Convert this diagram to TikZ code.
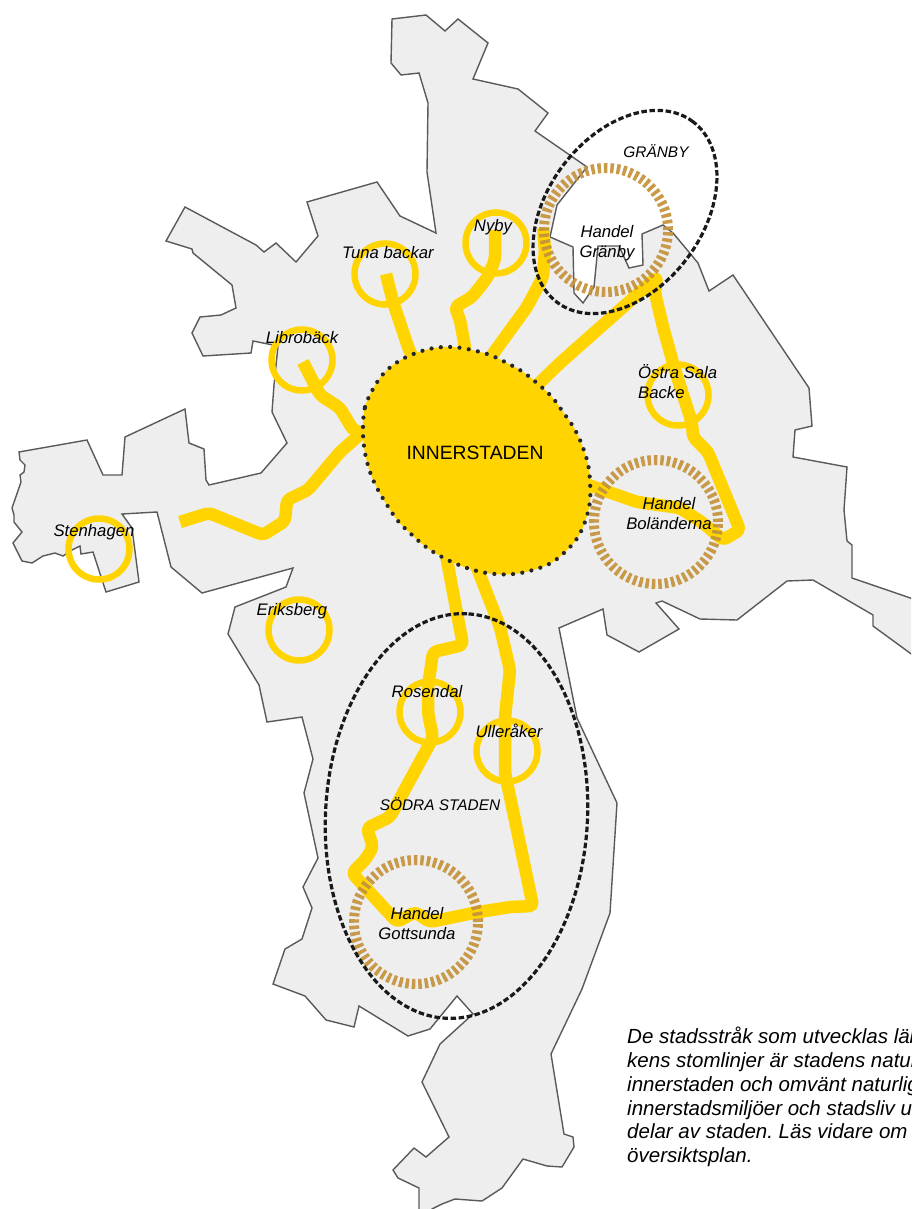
\documentclass[tikz,border=0pt]{standalone}
\usepackage{fontspec}
\setmainfont{Liberation Sans}
\definecolor{landgrey}{HTML}{EEEEEE}
\definecolor{edgegrey}{HTML}{5A5A5A}
\definecolor{streetyellow}{HTML}{FFD400}
\definecolor{ringbrown}{HTML}{C4923A}
\tikzset{
  land/.style={fill=landgrey,draw=edgegrey,line width=1.4pt,line join=miter},
  street/.style={draw=streetyellow,line width=12.5pt,line join=round,line cap=butt,rounded corners=4pt},
  district/.style={draw=streetyellow,line width=6.5pt,minimum size=61pt,inner sep=0pt,outer sep=0pt},
  trade/.style={draw=ringbrown,line width=10pt,dash pattern=on 3.5pt off 2.9pt,opacity=.92,minimum size=124pt,inner sep=0pt,outer sep=0pt},
  zone/.style={draw=black!90,line width=3.2pt,dash pattern=on 5.5pt off 2.6pt},
  core/.style={fill=streetyellow},
  coredots/.style={draw=black!85,line width=4.2pt,line cap=round,dash pattern=on 0pt off 9.35pt},
  place/.style={font=\fontsize{16.7}{20}\selectfont\itshape,text=black,inner sep=0pt,align=center},
  capsplace/.style={font=\fontsize{15.4}{20}\selectfont\itshape,text=black,inner sep=0pt},
}
\begin{document}
\begin{tikzpicture}[x=1pt,y=-1pt]
\useasboundingbox (0,0) rectangle (911,1209);
\clip (0,0) rectangle (911,1209);
% land outline
\draw[land] (392,19)--(426,15)--(445,31)--(458,19)--(488,43)--(473,79)--(518,89)--(548,113)--(535,131)--(587,167)
 --(557,205)--(550,237)--(573,247)--(574,293)--(583,303)--(594,287)--(598,246)--(619,246)--(629,268)--(643,265)--(642,234)--(663,225)--(673,233)--(698,263)--(709,291)--(733,275)
 --(809,388)--(812,426)--(795,430)--(793,457)--(847,467)--(844,510)--(847,541)--(852,545)--(852,578)--(925,603)
 --(925,664)--(873,626)--(873,615)--(813,580)--(787,581)--(737,620)--(700,619)--(662,601)--(656,603)--(679,629)--(639,652)--(607,635)--(603,609)--(559,628)
 --(577,718)--(617,803)--(610,913)--(582,989)--(551,1054)--(564,1134)--(573,1137)--(574,1147)--(562,1167)--(547,1166)--(523,1159)--(502,1188)--(482,1201)--(455,1199)--(442,1204)--(432,1209)--(420,1225)
 --(419,1225)--(419,1188)--(398,1178)--(393,1170)--(414,1148)--(426,1157)--(449,1137)--(422,1082)--(440,1044)--(473,1014)--(457,996)--(430,1029)--(408,1036)--(359,1006)--(354,1027)--(326,1020)--(305,996)--(273,984)--(285,949)--(302,939)--(312,908)--(303,887)--(318,858)--(304,793)--(313,759)--(302,717)--(267,722)--(259,685)--(228,634)--(235,607)--(286,587)--(293,568)--(202,593)--(171,567)--(157,512)--(122,514)--(132,528)--(139,582)--(106,592)--(93,552)--(81,554)--(80,546)--(72,550)--(63,556)--(55,553)--(43,556)--(32,563)--(22,561)--(13,543)--(22,532)--(14,522)--(14,515)--(12,508)--(21,482)--(20,475)--(24,472)--(25,465)--(20,460)--(19,452)--(87,440)--(103,475)--(122,475)--(125,437)--(185,409)--(189,443)--(204,449)--(206,480)--(209,485)--(261,473)--(287,443)--(272,412)--(274,385)--(278,346)--(253,341)--(251,353)--(203,356)--(192,333)--(200,317)--(221,315)--(236,308)--(232,285)--(193,253)--(192,249)--(166,241)--(185,207)--(256,245)--(264,252)--(276,243)--(296,262)--(318,236)--(307,202)--(377,182)--(400,216)--(436,233)--(427,172)--(428,103)--(419,73)--(401,75)--(391,63)--cycle;
% district rings
\node[circle,district] (ringtuna) at (385,274) {};
\node[circle,district] (ringnyby) at (496,243) {};
\node[circle,district] (ringlibro) at (302,360) {};
\node[circle,district] (ringsten) at (99,549) {};
\node[circle,district] (ringerik) at (299,630) {};
\node[circle,district] (ringostra) at (678,395) {};
\node[circle,district] (ringrosen) at (430,712) {};
\node[circle,district] (ringuller) at (507,751) {};
% streets
\draw[street] (386,274)--(393,302)--(408,347)--(416,365);
\draw[street] (495,230)--(495,260)--(487,278)--(472,297)--(455,307)--(460,320)--(465,347)--(466,360);
\draw[street] (490,358)--(527,307)--(543,277)--(545,250)--(543,228);
\draw[street] (530,392)--(560,363)--(657,277)--(655,293)--(663,327)--(675,370)--(692,423)--(693,437)--(708,452)--(740,530)--(723,540)--(703,523)--(680,508)--(637,502)--(603,490)--(580,482);
\draw[street] (303,362)--(320,395)--(340,408)--(353,430)--(370,435);
\draw[street] (180,522)--(209,513)--(263,535)--(285,521)--(287,500)--(308,490)--(340,452)--(357,437)--(370,428);
\draw[street] (446,555)--(463,645)--(433,652)--(428,687)--(428,713)--(433,737)--(428,747)--(410,780)--(390,817)--(367,828)--(373,847)--(365,860)--(352,873)--(397,922)--(415,912)--(430,922)--(473,913)--(510,907)--(533,906)--(505,773)--(505,717)--(510,670)--(500,627)--(474,560);
% inner city
\fill[core] plot[smooth cycle,tension=.6] coordinates {(363,425)(365,407)(373,389)(384,373)(399,361)(416,353)(434,348)(453,347)(472,350)(490,355)(507,363)(523,372)(538,384)(552,397)(563,412)(574,428)(582,445)(588,464)(590,482)(590,501)(586,519)(578,537)(566,551)(551,563)(533,570)(514,574)(495,574)(477,571)(459,565)(442,557)(426,547)(411,534)(398,521)(387,505)(377,488)(370,472)(365,453)(363,435)};
\draw[coredots] plot[smooth cycle,tension=.6] coordinates {(363,425)(365,407)(373,389)(384,373)(399,361)(416,353)(434,348)(453,347)(472,350)(490,355)(507,363)(523,372)(538,384)(552,397)(563,412)(574,428)(582,445)(588,464)(590,482)(590,501)(586,519)(578,537)(566,551)(551,563)(533,570)(514,574)(495,574)(477,571)(459,565)(442,557)(426,547)(411,534)(398,521)(387,505)(377,488)(370,472)(365,453)(363,435)};
% trade rings
\node[circle,trade] (ringgranby) at (606,230) {};
\node[circle,trade] (ringbol) at (656,522) {};
\node[circle,trade] (ringgott) at (416,922) {};
% zones
\draw[zone,rotate around={53:(625,212)}] (625,212) ellipse [x radius=113pt,y radius=77.5pt];
\draw[zone,rotate around={87:(456.5,816)}] (456.5,816) ellipse [x radius=202.5pt,y radius=131pt];
% labels
\node[capsplace] (lgranby) at (656,151) {GRÄNBY};
\node[place] (lhgranby) at (607,243) {Handel\\Gränby};
\node[place] (lnyby) at (493,227) {Nyby};
\node[place] (ltuna) at (388,253) {Tuna backar};
\node[place] (llibro) at (302,338) {Librobäck};
\node[place,align=left,anchor=west] (lostra) at (638,382) {Östra Sala\\Backe};
\node[font=\fontsize{19.3}{20}\selectfont,inner sep=0pt] (linner) at (475,453) {INNERSTADEN};
\node[place] (lhbol) at (669,514) {Handel\\Boländerna};
\node[place] (lsten) at (94,532) {Stenhagen};
\node[place] (lerik) at (292,611) {Eriksberg};
\node[place] (lrosen) at (427,692) {Rosendal};
\node[place] (luller) at (509,731) {Ulleråker};
\node[capsplace] (lsodra) at (440,804) {SÖDRA STADEN};
\node[place] (lhgott) at (417,924) {Handel\\Gottsunda};
\node[anchor=north west,inner sep=0pt,align=left,font=\frenchspacing\fontsize{20.5}{23.8}\selectfont\itshape] (para) at (627,1027)
 {De stadsstråk som utvecklas län\\kens stomlinjer är stadens natur\\innerstaden och omvänt naturlig\\innerstadsmiljöer och stadsliv ut\\delar av staden. Läs vidare om ö\\översiktsplan.};
\end{tikzpicture}
\end{document}
